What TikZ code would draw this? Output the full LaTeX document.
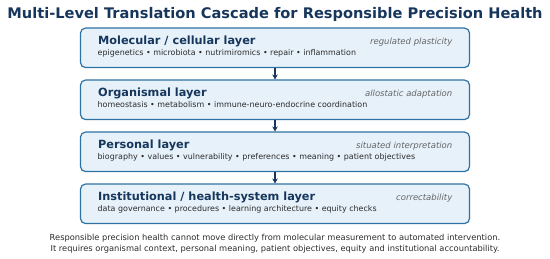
\documentclass[tikz,border=0pt]{standalone}
\usepackage{fontspec}
\setmainfont{DejaVu Sans}
\usetikzlibrary{arrows.meta}
\definecolor{navy}{HTML}{16365C}
\definecolor{boxfill}{HTML}{E6F1FA}
\definecolor{boxline}{HTML}{2E72A3}
\definecolor{subgray}{HTML}{666666}
\definecolor{desctext}{HTML}{2B2B2B}
\tikzset{
  layerbox/.style={draw=boxline, fill=boxfill, line width=1.2pt, rounded corners=5pt,
    minimum width=389pt, minimum height=39.5pt, inner sep=0pt},
  headtxt/.style={anchor=base west, inner sep=0pt, text=navy, font=\fontsize{11.3}{13}\selectfont\bfseries},
  desctxt/.style={anchor=base west, inner sep=0pt, text=desctext, font=\fontsize{7.95}{9}\selectfont},
  tagtxt/.style={anchor=base east, inner sep=0pt, text=subgray, font=\fontsize{8.5}{10}\selectfont\itshape},
  arr/.style={draw=navy, line width=1.4pt, -{Stealth[length=5pt,width=5.5pt]}},
  captxt/.style={anchor=base, inner sep=0pt, text=desctext, font=\fontsize{8.3}{10}\selectfont}
}
\begin{document}
\begin{tikzpicture}[x=1pt,y=1pt]
\useasboundingbox (0,0) rectangle (550,-258);
\node[anchor=base, inner sep=0pt, text=navy, font=\fontsize{14.6}{16}\selectfont\bfseries] (title) at (275,-18.5) {Multi-Level Translation Cascade for Responsible Precision Health};

\node[layerbox] (b1) at (275,-47.8) {};
\node[layerbox] (b2) at (275,-99.8) {};
\node[layerbox] (b3) at (275,-151.8) {};
\node[layerbox] (b4) at (275,-203.8) {};

\node[headtxt] (h1) at (98,-44.8) {Molecular / cellular layer};
\node[desctxt] (d1) at (97.5,-55.7) {epigenetics • microbiota • nutrimiromics • repair • inflammation};
\node[tagtxt] (g1) at (452.5,-44) {regulated plasticity};

\node[headtxt] (h2) at (98,-96.8) {Organismal layer};
\node[desctxt] (d2) at (97.5,-107.7) {homeostasis • metabolism • immune-neuro-endocrine coordination};
\node[tagtxt] (g2) at (452.5,-96) {allostatic adaptation};

\node[headtxt] (h3) at (98,-148.8) {Personal layer};
\node[desctxt] (d3) at (97.5,-159.7) {biography • values • vulnerability • preferences • meaning • patient objectives};
\node[tagtxt] (g3) at (452.5,-148) {situated interpretation};

\node[headtxt] (h4) at (98,-200.8) {Institutional / health-system layer};
\node[desctxt] (d4) at (97.5,-211.7) {data governance • procedures • learning architecture • equity checks};
\node[tagtxt] (g4) at (452.5,-200) {correctability};

\draw[arr] (b1.south) -- (b2.north);
\draw[arr] (b2.south) -- (b3.north);
\draw[arr] (b3.south) -- (b4.north);

\node[captxt] (c1) at (275,-240.5) {Responsible precision health cannot move directly from molecular measurement to automated intervention.};
\node[captxt] (c2) at (275,-251.5) {It requires organismal context, personal meaning, patient objectives, equity and institutional accountability.};
\end{tikzpicture}
\end{document}
